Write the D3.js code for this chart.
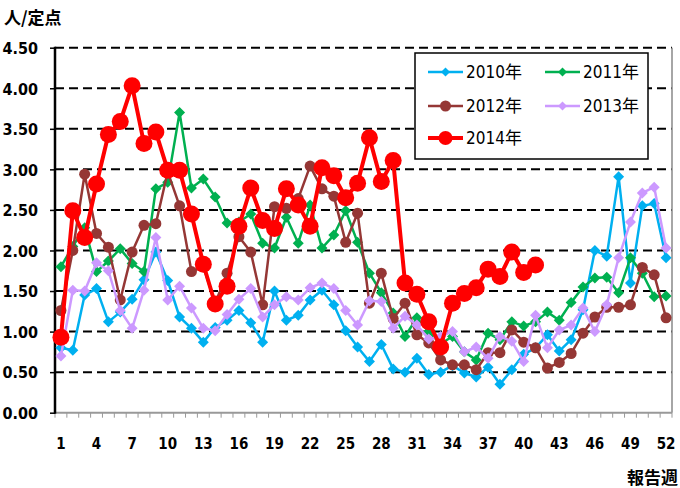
<!DOCTYPE html>
<html><head><meta charset="utf-8">
<script src="https://cdn.jsdelivr.net/npm/d3@7"></script>
<style>
html,body{margin:0;padding:0;background:#fff;}
svg{display:block;}
.lab{font-family:"DejaVu Sans Condensed","Liberation Sans Narrow","Liberation Sans",sans-serif;font-weight:bold;}
.cjk{font-family:"Noto Sans CJK JP",sans-serif;font-weight:bold;}
.leg{font-family:"DejaVu Sans Condensed","Noto Sans CJK JP",sans-serif;}
</style></head>
<body>
<svg id="c" width="680" height="488"></svg>
<script>
const weeks = d3.range(1, 53);
const yTicks = [0, 0.5, 1, 1.5, 2, 2.5, 3, 3.5, 4, 4.5];
const xLabelWeeks = [1,4,7,10,13,16,19,22,25,28,31,34,37,40,43,46,49,52];
const seriesNames = ["2010年","2011年","2012年","2013年","2014年"];

const s2010 = [0.80,0.77,1.45,1.53,1.12,1.24,1.40,1.64,1.98,1.63,1.18,1.04,0.87,1.05,1.14,1.26,1.11,0.87,1.50,1.14,1.20,1.39,1.51,1.33,1.01,0.81,0.63,0.84,0.54,0.50,0.67,0.47,0.50,0.58,0.49,0.44,0.56,0.35,0.53,0.72,0.80,0.96,0.76,0.90,1.27,2.00,1.93,2.91,1.60,2.55,2.58,1.91];
const s2011 = [1.80,2.05,2.28,1.74,1.87,2.02,1.84,1.74,2.76,2.84,3.70,2.77,2.88,2.66,2.34,2.35,2.45,2.09,2.03,2.41,2.09,2.56,2.03,2.19,2.49,2.10,1.72,1.48,1.23,0.94,1.17,1.00,0.85,0.94,0.75,0.65,0.98,0.90,1.12,1.07,1.12,1.24,1.14,1.36,1.55,1.66,1.67,1.48,1.91,1.72,1.43,1.44];
const s2012 = [1.26,2.00,2.94,2.21,2.04,1.39,1.98,2.31,2.33,2.97,2.55,1.74,1.80,1.35,1.72,2.17,1.98,1.33,2.54,2.52,2.64,3.04,2.76,2.67,2.10,2.46,1.35,1.72,1.16,1.35,0.96,0.86,0.65,0.59,0.59,0.53,0.74,0.74,1.02,0.87,0.80,0.55,0.62,0.73,0.98,1.18,1.30,1.30,1.33,1.79,1.70,1.17];
const s2013 = [0.70,1.51,1.50,1.85,1.75,1.26,1.04,1.51,2.16,1.39,1.56,1.29,1.04,1.01,1.21,1.40,1.53,1.18,1.33,1.43,1.39,1.54,1.60,1.53,1.26,1.08,1.38,1.37,1.04,1.19,1.08,0.91,0.94,1.00,0.75,0.81,0.67,0.94,0.88,0.63,1.20,0.80,1.02,1.08,1.29,1.00,1.33,1.91,2.35,2.71,2.78,2.03];
const s2014 = [0.93,2.49,2.16,2.82,3.43,3.59,4.03,3.32,3.46,2.99,2.99,2.45,1.83,1.34,1.56,2.30,2.77,2.37,2.27,2.76,2.56,2.30,3.02,2.92,2.65,2.83,3.39,2.85,3.11,1.60,1.46,1.12,0.81,1.35,1.47,1.54,1.77,1.68,1.98,1.73,1.82];

const svg = d3.select("#c");
const L = 55, R = 672, T = 47.7, B = 412.7;
const x = d3.scaleBand().domain(weeks).range([L, R]);
const cx = w => x(w) + x.bandwidth() / 2;
const y = d3.scaleLinear().domain([0, 4.5]).range([B, T]);

// gridlines
svg.append("g").selectAll("line").data(yTicks.filter(d => d > 0)).join("line")
  .attr("x1", L).attr("x2", R).attr("y1", d => y(d)).attr("y2", d => y(d))
  .attr("stroke", "#000").attr("stroke-width", 2).attr("stroke-dasharray", "9,5");

// right border
svg.append("line").attr("x1", R).attr("x2", R).attr("y1", T).attr("y2", B)
  .attr("stroke", "#888").attr("stroke-width", 1.5);

// x axis
const xb = d3.scaleLinear().domain([0.5, 52.5]).range([L, R]);
svg.append("g").selectAll("line").data(d3.range(0, 53)).join("line")
  .attr("x1", d => xb(d + 0.5)).attr("x2", d => xb(d + 0.5)).attr("y1", B).attr("y2", B + 5)
  .attr("stroke", "#999").attr("stroke-width", 1);
svg.append("line").attr("x1", L).attr("x2", R).attr("y1", B).attr("y2", B)
  .attr("stroke", "#999").attr("stroke-width", 2);
svg.append("g").selectAll("text").data(xLabelWeeks).join("text")
  .attr("class", "lab").attr("x", d => cx(d)).attr("y", 449)
  .attr("text-anchor", "middle").attr("font-size", 15).text(d => d);

// y axis
const yAxis = svg.append("g").attr("transform", `translate(${L},0)`)
  .call(d3.axisLeft(y).tickValues(yTicks).tickFormat(d3.format(".2f")).tickSize(5));
yAxis.select(".domain").remove();
yAxis.selectAll(".tick line").attr("stroke", "#000").attr("stroke-width", 1.5);
yAxis.selectAll(".tick text").attr("class", "lab").attr("font-size", 16).attr("fill", "#000")
  .attr("x", -17).attr("dy", "0.36em");
svg.append("line").attr("x1", L).attr("x2", L).attr("y1", T - 1).attr("y2", B + 1)
  .attr("stroke", "#000").attr("stroke-width", 2.5);

// titles
svg.append("text").attr("class", "cjk").attr("x", 4).attr("y", 24).attr("font-size", 17).text("人/定点");
svg.append("text").attr("class", "cjk").attr("x", 678).attr("y", 484).attr("text-anchor", "end").attr("font-size", 17).text("報告週");

// series
const series = [
  {name: seriesNames[0], data: s2010, color: "#00B0F0", shape: "diamond", size: 5.5, lw: 2.5},
  {name: seriesNames[1], data: s2011, color: "#00B050", shape: "diamond", size: 5.5, lw: 2.5},
  {name: seriesNames[2], data: s2012, color: "#953735", shape: "circle", size: 5.5, lw: 2.5},
  {name: seriesNames[3], data: s2013, color: "#CC99FF", shape: "diamond", size: 5.5, lw: 2.5},
  {name: seriesNames[4], data: s2014, color: "#FF0000", shape: "circle", size: 8.5, lw: 4}
];
const line = d3.line().x((d, i) => cx(i + 1)).y(d => y(d));
function marker(g, s, px, py) {
  if (s.shape === "circle") {
    g.append("circle").attr("cx", px).attr("cy", py).attr("r", s.size).attr("fill", s.color);
  } else {
    const r = s.size;
    g.append("path").attr("d", `M${px},${py - r}L${px + r},${py}L${px},${py + r}L${px - r},${py}Z`).attr("fill", s.color);
  }
}
series.forEach(s => {
  const g = svg.append("g");
  g.append("path").datum(s.data).attr("d", line).attr("fill", "none")
    .attr("stroke", s.color).attr("stroke-width", s.lw).attr("stroke-linejoin", "round");
  s.data.forEach((v, i) => marker(g, s, cx(i + 1), y(v)));
});

// legend
const lg = svg.append("g");
lg.append("rect").attr("x", 415).attr("y", 53).attr("width", 233).attr("height", 106)
  .attr("fill", "#fff").attr("stroke", "#000").attr("stroke-width", 1.5);
const legPos = [[428, 72], [545, 72], [428, 106], [545, 106], [428, 138]];
series.forEach((s, i) => {
  const [lx, ly] = legPos[i];
  lg.append("line").attr("x1", lx).attr("x2", lx + 35).attr("y1", ly).attr("y2", ly)
    .attr("stroke", s.color).attr("stroke-width", s.lw);
  const ms = {...s, size: s.shape === "circle" ? (i === 4 ? 7 : 5.5) : 4.5};
  marker(lg, ms, lx + 17.5, ly);
  lg.append("text").attr("class", "leg").attr("x", lx + 38).attr("y", ly + 6)
    .attr("font-size", 17).text(s.name);
});
</script>
</body></html>
